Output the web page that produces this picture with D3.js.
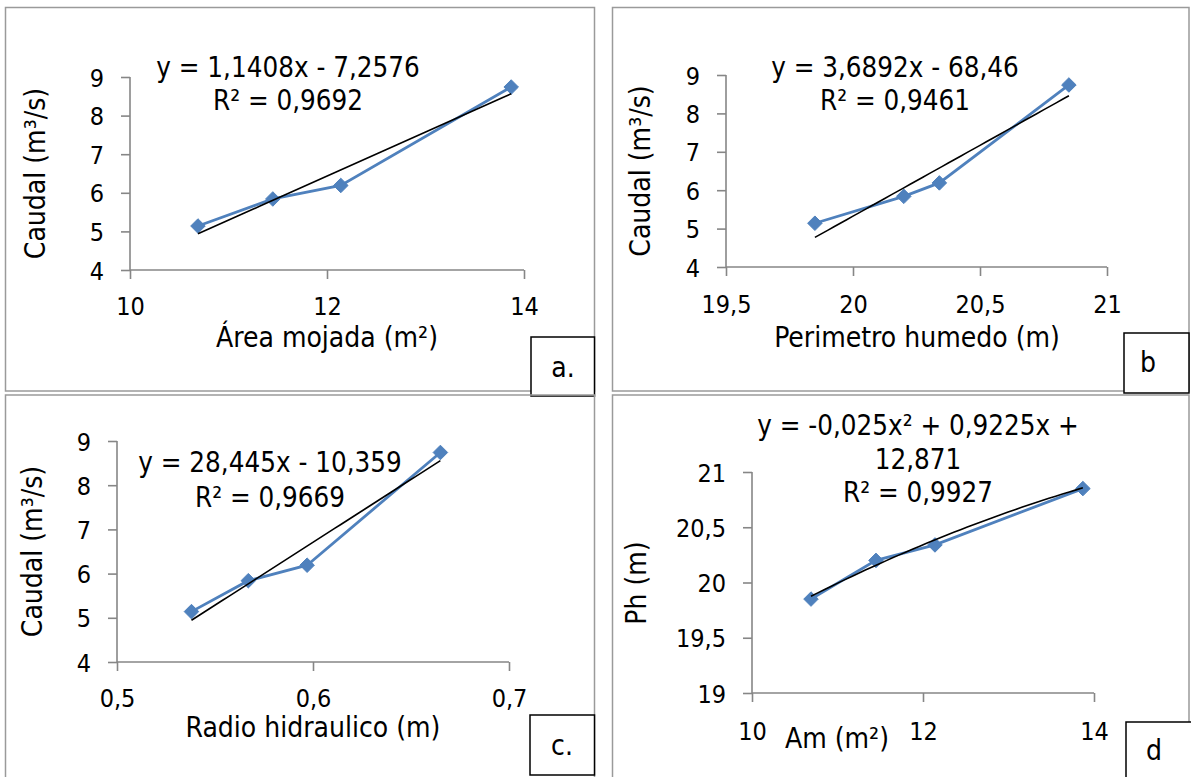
<!DOCTYPE html>
<html>
<head>
<meta charset="utf-8">
<script src="https://cdn.jsdelivr.net/npm/d3@7"></script>
<style>
  html, body { margin: 0; padding: 0; background: #ffffff; }
  svg { display: block; }
  text { font-family: "DejaVu Sans Condensed", "DejaVu Sans", sans-serif; font-stretch: condensed; fill: #000; }
</style>
</head>
<body>
<svg id="chart" width="1191" height="777"></svg>
<script>
// Hydraulic measurements (four gauging events)
const areaMojada = [10.69, 11.45, 12.14, 13.87];        // m²
const perimetroHumedo = [19.85, 20.20, 20.34, 20.85];   // m
const radioHidraulico = [0.538, 0.567, 0.597, 0.665];   // m
const caudal = [5.14, 5.84, 6.19, 8.74];                // m³/s

// Trendline coefficients (highest power first)
const trendA = [1.1408, -7.2576];
const trendB = [3.6892, -68.46];
const trendC = [28.445, -10.359];
const trendD = [-0.025, 0.9225, 12.871];

// Trendline labels
const eqA = ["y = 1,1408x - 7,2576", "R² = 0,9692"];
const eqB = ["y = 3,6892x - 68,46", "R² = 0,9461"];
const eqC = ["y = 28,445x - 10,359", "R² = 0,9669"];
const eqD = ["y = -0,025x² + 0,9225x +", "12,871", "R² = 0,9927"];

// Axis ticks
const ticksQ = [4, 5, 6, 7, 8, 9];
const ticksArea = [10, 12, 14];
const ticksPerim = [19.5, 20, 20.5, 21];
const ticksRadio = [0.5, 0.6, 0.7];
const ticksPh = [19, 19.5, 20, 20.5, 21];

// Titles and panel tags
const titlesX = ["Área mojada (m²)", "Perimetro humedo (m)", "Radio hidraulico (m)", "Am (m²)"];
const titlesY = ["Caudal (m³/s)", "Caudal (m³/s)", "Caudal (m³/s)", "Ph (m)"];
const panelTags = ["a.", "b", "c.", "d"];

const locale = d3.formatLocale({decimal: ",", thousands: ".", grouping: [3], currency: ["", ""]});
const fmt = v => locale.format("")(v);

const BLUE = "#4F81BD";
const AXIS = "#868686";

const panels = [
  {
    xs: areaMojada, ys: caudal, trend: trendA, eq: eqA,
    xTicks: ticksArea, yTicks: ticksQ, xDomain: [10, 14], yDomain: [4, 9],
    border: [5.5, 7.5, 594.5, 391], plotX: [130, 524], plotY: [270, 77],
    eqX: 288, eqY: [77, 110], xLabY: 315, xTitle: [327, 347], yTitle: [45, 173.5],
    tagBox: [531, 337, 594.5, 396], tagText: [563, 377]
  },
  {
    xs: perimetroHumedo, ys: caudal, trend: trendB, eq: eqB,
    xTicks: ticksPerim, yTicks: ticksQ, xDomain: [19.5, 21], yDomain: [4, 9],
    border: [612.5, 7.5, 1189, 391], plotX: [726, 1107], plotY: [267, 75],
    eqX: 895, eqY: [77, 110], xLabY: 313, xTitle: [917, 347], yTitle: [650, 171],
    tagBox: [1124, 333, 1189, 393], tagText: [1148, 372]
  },
  {
    xs: radioHidraulico, ys: caudal, trend: trendC, eq: eqC,
    xTicks: ticksRadio, yTicks: ticksQ, xDomain: [0.5, 0.7], yDomain: [4, 9],
    border: [5.5, 395, 594.5, 790], plotX: [117, 509], plotY: [662, 441],
    eqX: 270, eqY: [472, 507], xLabY: 707, xTitle: [313, 737], yTitle: [42, 551.5],
    tagBox: [530, 715, 594.5, 775], tagText: [562, 755]
  },
  {
    xs: areaMojada, ys: perimetroHumedo, trend: trendD, eq: eqD,
    xTicks: ticksArea, yTicks: ticksPh, xDomain: [10, 14], yDomain: [19, 21],
    border: [612.5, 395, 1189, 790], plotX: [752, 1094], plotY: [693, 472],
    eqX: 918, eqY: [435, 469, 502], xLabY: 740, xTitle: [837, 748], yTitle: [646, 583],
    tagBox: [1126, 722, 1195, 790], tagText: [1154, 760]
  }
];

const svg = d3.select("#chart");

function poly(coefs, x) {
  return coefs.reduce((acc, c) => acc * x + c, 0);
}

panels.forEach((p, i) => {
  const g = svg.append("g");

  // panel frame
  g.append("rect")
    .attr("x", p.border[0]).attr("y", p.border[1])
    .attr("width", p.border[2] - p.border[0]).attr("height", p.border[3] - p.border[1])
    .attr("fill", "none").attr("stroke", "#9a9a9a").attr("stroke-width", 1.5);

  const x = d3.scaleLinear().domain(p.xDomain).range(p.plotX);
  const y = d3.scaleLinear().domain(p.yDomain).range(p.plotY);

  // y axis
  const yAxis = g.append("g")
    .attr("transform", `translate(${p.plotX[0]},0)`)
    .call(d3.axisLeft(y).tickValues(p.yTicks).tickSize(9).tickPadding(17).tickFormat(fmt));
  // x axis
  const xAxis = g.append("g")
    .attr("transform", `translate(0,${p.plotY[0]})`)
    .call(d3.axisBottom(x).tickValues(p.xTicks).tickSize(9).tickFormat(fmt));

  [yAxis, xAxis].forEach(ax => {
    ax.attr("font-size", null).attr("font-family", null);
    ax.select(".domain").remove();
    ax.selectAll("line").attr("stroke", AXIS).attr("stroke-width", 1.6);
    ax.selectAll("text").style("font-size", "25px").attr("fill", "#000");
  });
  yAxis.selectAll("text").attr("dy", "0.36em");
  xAxis.selectAll("text").attr("y", null).attr("dy", null)
    .attr("transform", `translate(0,${p.xLabY - p.plotY[0]})`);

  // axis lines
  g.append("line")
    .attr("x1", p.plotX[0]).attr("x2", p.plotX[0])
    .attr("y1", p.plotY[0]).attr("y2", p.plotY[1])
    .attr("stroke", AXIS).attr("stroke-width", 1.6);
  g.append("line")
    .attr("x1", p.plotX[0]).attr("x2", p.plotX[1])
    .attr("y1", p.plotY[0]).attr("y2", p.plotY[0])
    .attr("stroke", AXIS).attr("stroke-width", 1.6);

  // data series
  const pts = p.xs.map((v, k) => [v, p.ys[k]]);
  g.append("path")
    .attr("d", d3.line().x(d => x(d[0])).y(d => y(d[1]))(pts))
    .attr("fill", "none").attr("stroke", BLUE).attr("stroke-width", 2.8);
  g.selectAll(".mk").data(pts).enter().append("path")
    .attr("d", d3.symbol().type(d3.symbolDiamond2).size(135)())
    .attr("transform", d => `translate(${x(d[0])},${y(d[1])})`)
    .attr("fill", BLUE).attr("stroke", BLUE).attr("stroke-width", 1);

  // trendline
  const x0 = d3.min(p.xs), x1 = d3.max(p.xs);
  const tx = d3.range(0, 41).map(k => x0 + (x1 - x0) * k / 40);
  g.append("path")
    .attr("d", d3.line().x(d => x(d)).y(d => y(poly(p.trend, d)))(tx))
    .attr("fill", "none").attr("stroke", "#000").attr("stroke-width", 1.6);

  // equation label
  p.eq.forEach((t, k) => {
    g.append("text").attr("x", p.eqX).attr("y", p.eqY[k])
      .attr("text-anchor", "middle").style("font-size", "27.5px").text(t);
  });

  // axis titles
  g.append("text").attr("x", p.xTitle[0]).attr("y", p.xTitle[1])
    .attr("text-anchor", "middle").style("font-size", "28px").text(titlesX[i]);
  g.append("text")
    .attr("transform", `translate(${p.yTitle[0]},${p.yTitle[1]}) rotate(-90)`)
    .attr("text-anchor", "middle").style("font-size", "28px").text(titlesY[i]);

  // panel tag
  g.append("rect")
    .attr("x", p.tagBox[0]).attr("y", p.tagBox[1])
    .attr("width", p.tagBox[2] - p.tagBox[0]).attr("height", p.tagBox[3] - p.tagBox[1])
    .attr("fill", "#fff").attr("stroke", "#000").attr("stroke-width", 1.5);
  g.append("text").attr("x", p.tagText[0]).attr("y", p.tagText[1])
    .attr("text-anchor", "middle").style("font-size", "28px").text(panelTags[i]);
});
</script>
</body>
</html>
